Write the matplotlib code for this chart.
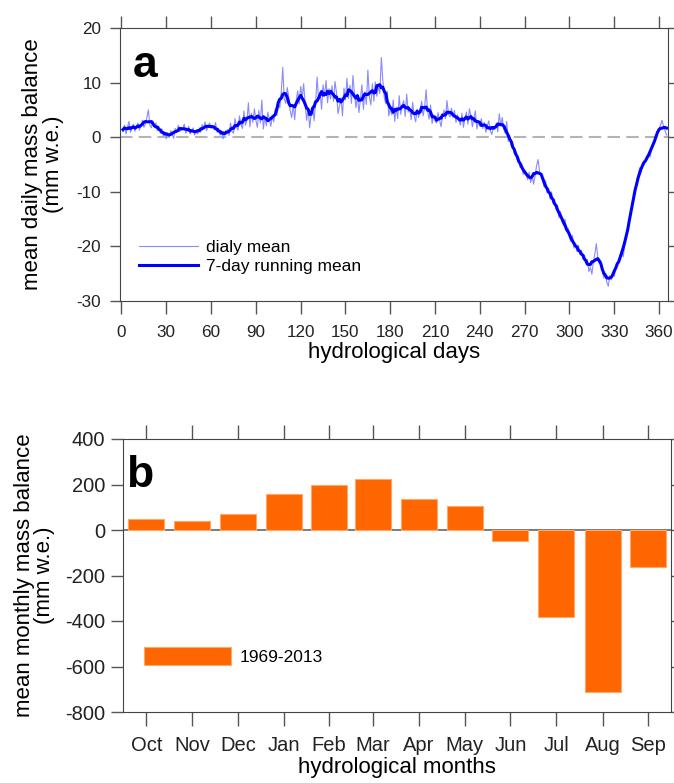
import numpy as np
import pandas as pd
import matplotlib
matplotlib.use("Agg")
import matplotlib.pyplot as plt

plt.rcParams["font.family"] = ["Liberation Sans", "DejaVu Sans"]
plt.rcParams["axes.unicode_minus"] = False

# daily mean mass balance (mm w.e.), hydrological days 1..365
daily_mb = [
    1.0, 2.2, 0.6, 1.8, 2.9, 0.9, 1.5, 2.4, 1.1, 1.9,
    2.6, 1.3, 2.0, 3.1, 1.8, 2.4, 3.6, 5.0, 2.2, 1.7,
    3.0, 1.9, 2.6, 1.2, 2.0, 0.8, 1.5, 0.2, 0.9, -0.3,
    0.8, 0.1, 1.2, 0.4, -0.2, 1.6, 0.9, 2.2, 1.0, 1.8,
    1.5, 2.4, 0.7, 1.3, 2.0, 0.6, 1.1, 1.7, 0.4, 1.2,
    0.6, 1.4, 0.9, 2.3, 1.5, 2.8, 1.2, 2.0, 2.6, 1.6,
    2.2, 1.4, 2.7, 0.9, 1.6, 0.4, 1.2, -0.3, 0.8, 0.5,
    1.4, 0.3, 2.6, 1.1, 0.7, 3.4, 2.0, 1.3, 3.9, 2.4,
    1.6, 4.8, 2.2, 3.0, 6.3, 1.9, 4.4, 2.7, 5.2, 3.1,
    1.8, 4.9, 2.6, 6.8, 1.5, 3.8, 2.1, 4.6, 3.3, 2.0,
    3.9, 2.8, 5.2, 4.0, 6.1, 5.4, 8.3, 12.8, 7.0, 6.2,
    9.1, 7.4, 4.8, 3.6, 5.9, 3.2, 6.7, 8.5, 6.1, 9.3,
    7.2, 9.8, 6.0, 3.1, 5.3, 1.7, 4.2, 5.8, 3.0, 6.4,
    11.0, 6.9, 8.2, 5.1, 9.6, 7.4, 10.4, 6.3, 8.9, 7.0,
    9.4, 6.6, 10.2, 8.1, 4.3, 5.8, 7.2, 3.9, 9.0, 6.8,
    10.8, 7.1, 9.5, 6.2, 11.3, 8.0, 5.4, 7.7, 4.5, 6.9,
    9.6, 5.1, 8.3, 6.0, 12.3, 7.4, 5.9, 9.8, 6.6, 10.1,
    7.5, 9.4, 8.0, 14.6, 10.5, 7.2, 6.1, 8.4, 3.9, 5.2,
    4.1, 6.8, 2.9, 5.5, 3.4, 7.6, 4.2, 5.9, 6.7, 3.8,
    7.9, 4.6, 5.3, 3.2, 6.4, 4.0, 2.8, 5.1, 3.6, 4.9,
    6.6, 3.9, 5.5, 8.7, 4.8, 3.3, 5.9, 2.5, 4.1, 3.0,
    2.6, 4.5, 3.2, 1.9, 3.8, 5.0, 3.4, 6.7, 4.2, 3.7,
    5.3, 3.6, 4.9, 2.7, 4.1, 3.0, 2.2, 4.4, 1.8, 3.5,
    4.6, 2.4, 5.2, 3.9, 1.9, 3.6, 4.8, 1.5, 2.9, 2.0,
    3.4, 1.6, 2.7, 0.9, 2.1, 3.0, 1.2, 0.5, 1.8, 1.4,
    2.6, 1.0, 4.3, 2.2, 3.6, 1.5, 0.7, 2.9, -0.8, 0.3,
    -1.5, -0.9, -3.0, -2.6, -4.1, -3.8, -5.6, -4.9, -6.8, -6.0,
    -6.9, -7.8, -6.4, -8.3, -7.1, -8.6, -7.0, -5.2, -4.1, -6.3,
    -6.8, -7.9, -9.1, -8.0, -10.2, -9.4, -11.3, -10.0, -12.1, -11.4,
    -13.2, -12.5, -14.8, -13.6, -15.4, -16.2, -15.0, -17.3, -16.6, -18.4,
    -19.1, -18.0, -20.3, -19.6, -20.9, -19.8, -21.5, -20.7, -22.3, -21.6,
    -23.0, -22.4, -24.6, -23.8, -25.1, -22.9, -21.4, -19.5, -22.0, -23.1,
    -22.6, -24.2, -25.8, -24.9, -26.6, -27.3, -25.4, -26.1, -24.7, -25.5,
    -24.0, -23.3, -22.6, -21.5, -20.8, -21.9, -19.7, -18.2, -17.0, -15.6,
    -13.5, -12.8, -10.9, -9.7, -8.0, -6.9, -5.6, -6.2, -4.7, -5.0,
    -4.1, -3.5, -3.0, -3.6, -2.2, -1.5, -0.4, 0.3, 0.9, 1.6,
    2.3, 3.1, 2.0, 1.2, 0.4,
]

months = ["Oct", "Nov", "Dec", "Jan", "Feb", "Mar",
          "Apr", "May", "Jun", "Jul", "Aug", "Sep"]
month_days = [31, 30, 31, 31, 28, 31, 30, 31, 30, 31, 31, 30]
monthly_mb = [47, 38, 70, 160, 196, 226, 137, 106, -49, -381, -712, -163]

days = np.arange(1, len(daily_mb) + 1)
running = pd.Series(daily_mb).rolling(7, center=True, min_periods=1).mean()

# mid-month position in hydrological days
ends = np.cumsum(month_days)
mid = ends - np.array(month_days) / 2.0

spine_c = "#444444"
tick_kw = dict(direction="out", width=1.0, color="#555555",
               top=True, right=True, labelcolor="#222222")

fig = plt.figure(figsize=(6.74, 7.83), dpi=100)

# ---- panel a: daily ----
ax = fig.add_axes([120 / 674, 1 - 301 / 783, 548 / 674, 273 / 783])
ax.axhline(0, color="#b4b4b4", lw=1.5, ls=(0, (6, 3)), zorder=1)
ax.plot(days, daily_mb, color="#8a8aff", lw=0.8, label="dialy mean", zorder=2)
ax.plot(days, running, color="#0000ff", lw=2.2, label="7-day running mean", zorder=3)
ax.set_xlim(-1, 366)
ax.set_ylim(-30, 20)
ax.set_xticks(np.arange(0, 361, 30))
ax.set_yticks(np.arange(-30, 21, 10))
ax.tick_params(labelsize=12.3, **tick_kw)
ax.tick_params(axis="x", length=9, pad=8)
ax.tick_params(axis="y", length=7.5, pad=6)
ax.set_xlabel("hydrological days", fontsize=16, labelpad=2)
ax.set_ylabel("mean daily mass balance\n(mm w.e.)", fontsize=16, linespacing=0.95)
ax.yaxis.set_label_coords(-0.103, 0.5)
ax.text(0.024, 0.82, "a", transform=ax.transAxes, fontsize=32,
        fontweight="bold", va="baseline")
ax.legend(loc="center left", bbox_to_anchor=(0.035, 0.161), frameon=False,
          fontsize=12.5, handlelength=3.4, handletextpad=0.45,
          labelspacing=0.25, borderpad=0, borderaxespad=0)
for s in ax.spines.values():
    s.set_color(spine_c)

# ---- panel b: monthly ----
bx = fig.add_axes([123 / 674, 1 - 712 / 783, 548 / 674, 273 / 783])
bx.axhline(0, color="#666666", lw=1.2, zorder=1)
bx.bar(mid, monthly_mb, width=24, color="#ff6600", edgecolor="#ffa868",
       lw=0.8, label="1969-2013", zorder=2)
bx.set_xlim(0, 365)
bx.set_ylim(-800, 400)
bx.set_xticks(mid)
bx.set_xticklabels(months)
bx.set_yticks(np.arange(-800, 401, 200))
bx.tick_params(labelsize=14.5, **tick_kw)
bx.tick_params(axis="x", length=10, pad=7)
bx.tick_params(axis="y", length=9, pad=4)
bx.set_xlabel("hydrological months", fontsize=16, labelpad=2)
bx.set_ylabel("mean monthly mass balance\n(mm w.e.)", fontsize=16, linespacing=0.95)
bx.yaxis.set_label_coords(-0.124, 0.5)
bx.text(0.006, 0.824, "b", transform=bx.transAxes, fontsize=32,
        fontweight="bold", va="baseline")
bx.legend(loc="center left", bbox_to_anchor=(0.038, 0.205), frameon=False,
          fontsize=12.5, handlelength=5.0, handleheight=1.15,
          handletextpad=0.5, borderpad=0, borderaxespad=0)
for s in bx.spines.values():
    s.set_color(spine_c)

fig.savefig("out.png", dpi=100)
